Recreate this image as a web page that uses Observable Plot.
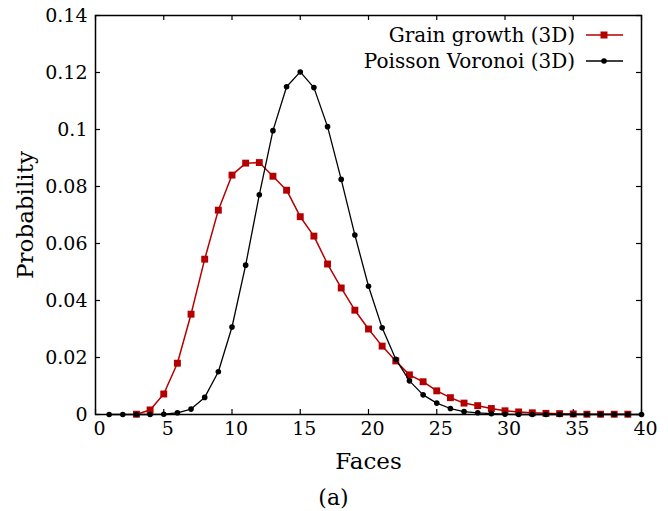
<!DOCTYPE html>
<html><head><meta charset="utf-8">
<script src="https://cdn.jsdelivr.net/npm/d3@7"></script>
<script src="https://cdn.jsdelivr.net/npm/@observablehq/plot@0.6"></script>
<style>body{margin:0;background:#fff} #chart{width:668px;height:511px}</style>
</head><body><div id="chart"></div>
<script>
const grainFaces = [3,4,5,6,7,8,9,10,11,12,13,14,15,16,17,18,19,20,21,22,23,24,25,26,27,28,29,30,31,32,33,34,35,36,37,38,39];
const grainProb  = [0.0001,0.0016,0.0072,0.018,0.0352,0.0545,0.0717,0.084,0.0882,0.0884,0.0836,0.0787,0.0694,0.0626,0.0528,0.0444,0.0366,0.030,0.024,0.0188,0.0139,0.0115,0.0083,0.0059,0.004,0.0031,0.0021,0.0013,0.0009,0.0006,0.0004,0.0003,0.0002,0.0001,0.0001,0.0001,0.0001];
const voronoiFaces = [1,2,3,4,5,6,7,8,9,10,11,12,13,14,15,16,17,18,19,20,21,22,23,24,25,26,27,28,29,30,31,32,33,34,35,36,37,38,39,40];
const voronoiProb  = [0,0,0,0,0.0001,0.0006,0.0019,0.006,0.015,0.0307,0.0524,0.0771,0.0996,0.115,0.1202,0.1147,0.101,0.0825,0.063,0.045,0.0304,0.0194,0.0118,0.0069,0.004,0.0021,0.001,0.0006,0.0003,0.0001,0,0,0,0,0,0,0,0,0,0];
const xTicks = [0,5,10,15,20,25,30,35,40];
const yTicks = [0,0.02,0.04,0.06,0.08,0.1,0.12,0.14];
const seriesNames = ["Grain growth (3D)", "Poisson Voronoi (3D)"];
const seriesColors = ["#b40000", "#000000"];
const xLabel = "Faces", yLabel = "Probability", caption = "(a)";

const grain = grainFaces.map((f, i) => ({faces: f, prob: grainProb[i]}));
const voronoi = voronoiFaces.map((f, i) => ({faces: f, prob: voronoiProb[i]}));

const W = 668, H = 511, mL = 95, mR = 27, mT = 15, mB = 97;
const plotW = W - mL - mR, plotH = H - mT - mB, tk = 5;
const font = '"DejaVu Serif", "Liberation Serif", serif';

const chart = Plot.plot({
  width: W, height: H, marginLeft: mL, marginRight: mR, marginTop: mT, marginBottom: mB,
  style: {fontFamily: font, background: "white", color: "black"},
  x: {domain: [0, 40]},
  y: {domain: [0, 0.14]},
  marks: [
    Plot.axisX(xTicks, {tickSize: 0, tickPadding: 7, fontSize: 19, dx: 4, label: null}),
    Plot.axisY(yTicks, {tickSize: 0, tickPadding: 8, fontSize: 19, label: null, tickFormat: d => String(+d.toFixed(2))}),
    Plot.tickX(xTicks, {x: d => d, insetTop: plotH - tk, stroke: "black", strokeWidth: 1.2}),
    Plot.tickX(xTicks, {x: d => d, insetBottom: plotH - tk, stroke: "black", strokeWidth: 1.2}),
    Plot.tickY(yTicks, {y: d => d, insetRight: plotW - tk, stroke: "black", strokeWidth: 1.2}),
    Plot.tickY(yTicks, {y: d => d, insetLeft: plotW - tk, stroke: "black", strokeWidth: 1.2}),
    Plot.line(grain, {x: "faces", y: "prob", stroke: seriesColors[0], strokeWidth: 1.5}),
    Plot.dot(grain, {x: "faces", y: "prob", symbol: "square", r: 3.9, fill: seriesColors[0], stroke: "none"}),
    Plot.line(voronoi, {x: "faces", y: "prob", stroke: seriesColors[1], strokeWidth: 1.3}),
    Plot.dot(voronoi, {x: "faces", y: "prob", r: 2.8, fill: seriesColors[1], stroke: "none"}),
    Plot.frame({stroke: "black", strokeWidth: 1.5}),
    Plot.text([xLabel], {frameAnchor: "bottom", lineAnchor: "middle", textAnchor: "middle", dy: 47, fontSize: 23}),
    Plot.text([caption], {frameAnchor: "bottom", lineAnchor: "middle", textAnchor: "middle", dy: 83, dx: -35, fontSize: 22}),
    Plot.text([yLabel], {frameAnchor: "left", lineAnchor: "middle", textAnchor: "middle", dx: -70, rotate: -90, fontSize: 23})
  ]
});
document.getElementById("chart").append(chart);

// legend inside the top-right of the frame
const svg = d3.select(chart);
const lg = svg.append("g").style("font-family", font).attr("font-size", 20);
const rowsY = [35, 61];
seriesNames.forEach((name, i) => {
  const y = rowsY[i];
  lg.append("text").attr("x", 575).attr("y", y).attr("dy", "0.35em")
    .attr("text-anchor", "end").attr("fill", "black").text(name);
  lg.append("line").attr("x1", 586).attr("x2", 623).attr("y1", y).attr("y2", y)
    .attr("stroke", seriesColors[i]).attr("stroke-width", i === 0 ? 1.5 : 1.3);
  if (i === 0) {
    lg.append("rect").attr("x", 604 - 3.5).attr("y", y - 3.5).attr("width", 7).attr("height", 7)
      .attr("fill", seriesColors[i]);
  } else {
    lg.append("circle").attr("cx", 604).attr("cy", y).attr("r", 2.8).attr("fill", seriesColors[i]);
  }
});
</script>
</body></html>
